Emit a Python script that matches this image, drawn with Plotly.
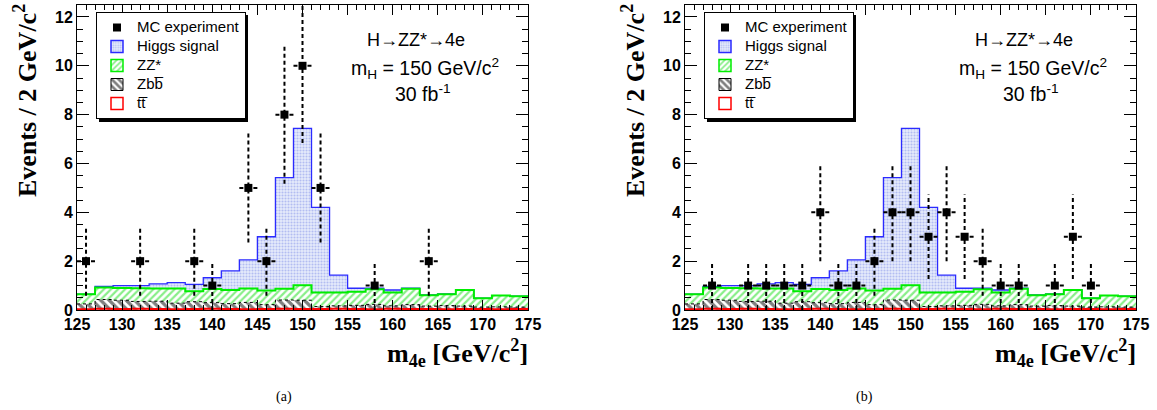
import numpy as np
import plotly.graph_objects as go

# ---------------- data ----------------
bin_centers = [126, 128, 130, 132, 134, 136, 138, 140, 142, 144, 146, 148, 150,
               152, 154, 156, 158, 160, 162, 164, 166, 168, 170, 172, 174]
bin_width = 2.0
higgs = [0.01, 0.05, 0.10, 0.11, 0.19, 0.24, 0.28, 0.46, 0.78, 1.17, 2.20, 4.55, 6.43,
         3.48, 0.71, 0.14, 0.04, 0.10, 0.02, 0.02, 0.01, 0.00, 0.01, 0.00, 0.01]
zz = [0.39, 0.49, 0.50, 0.54, 0.52, 0.60, 0.43, 0.56, 0.56, 0.57, 0.58, 0.46, 0.61,
      0.58, 0.55, 0.56, 0.62, 0.55, 0.65, 0.44, 0.47, 0.66, 0.36, 0.46, 0.44]
zbb = [0.22, 0.38, 0.36, 0.30, 0.32, 0.25, 0.30, 0.25, 0.22, 0.28, 0.18, 0.36, 0.36,
       0.10, 0.12, 0.15, 0.20, 0.12, 0.18, 0.12, 0.15, 0.12, 0.08, 0.10, 0.08]
tt = [0.03, 0.05, 0.04, 0.05, 0.04, 0.03, 0.04, 0.05, 0.04, 0.03, 0.04, 0.05, 0.04,
      0.04, 0.05, 0.04, 0.03, 0.05, 0.04, 0.04, 0.03, 0.04, 0.04, 0.03, 0.04]

data_a_x = [126, 132, 138, 140, 144, 146, 148, 150, 152, 158, 164]
data_a_y = [2, 2, 2, 1, 5, 2, 8, 10, 5, 1, 2]
data_b_x = [128, 132, 134, 136, 138, 140, 142, 144, 146, 148, 150, 152, 154, 156,
            158, 160, 162, 166, 168, 170]
data_b_y = [1, 1, 1, 1, 1, 4, 1, 1, 2, 4, 4, 3, 4, 3, 2, 1, 1, 1, 3, 1]

x_ticks = [125, 130, 135, 140, 145, 150, 155, 160, 165, 170, 175]
y_ticks = [0, 2, 4, 6, 8, 10, 12]

# ---------------- derived stacks ----------------
c = np.array(bin_centers, dtype=float)
tt_top = np.array(tt)
zbb_top = tt_top + np.array(zbb)
zz_top = zbb_top + np.array(zz)
tot_top = zz_top + np.array(higgs)
edges = np.append(c - bin_width / 2, c[-1] + bin_width / 2)


def step(v):
    return np.append(v, v[-1])


W, H = 1157, 410


def px(x):
    return x / W


def py(y):
    return 1 - y / H


fig = go.Figure()

SANS = "Liberation Sans, DejaVu Sans"
SERIF = "Liberation Serif"


def lbl(t):
    return "<span style='font-size:15px'>" + t + "</span>"


panels = [
    dict(xa="x", ya="y", leg="legend", dx=data_a_x, dy=data_a_y),
    dict(xa="x2", ya="y2", leg="legend2", dx=data_b_x, dy=data_b_y),
]

higgs_pat = dict(shape=".", fgcolor="#7f90e8", bgcolor="#e6ebfb", size=3, solidity=0.4)
zz_pat = dict(shape="/", fgcolor="#11dd11", bgcolor="white", size=5, solidity=0.45)
zbb_pat = dict(shape="\\", fgcolor="black", bgcolor="white", size=6, solidity=0.55)

for p in panels:
    common = dict(xaxis=p["xa"], yaxis=p["ya"], legend=p["leg"], hoverinfo="skip")
    # Higgs signal (stack total)
    fig.add_trace(go.Scatter(
        x=edges, y=step(tot_top), mode="lines", line=dict(color="#2b2bff", width=1.3, shape="hv"),
        fill="tozeroy", fillcolor="#e6ebfb", fillpattern=higgs_pat, showlegend=False, **common))
    # ZZ*
    fig.add_trace(go.Scatter(
        x=edges, y=step(zz_top), mode="lines", line=dict(color="#00ee00", width=2, shape="hv"),
        fill="tozeroy", fillcolor="white", fillpattern=zz_pat, showlegend=False, **common))
    # Zbb
    fig.add_trace(go.Scatter(
        x=edges, y=step(zbb_top), mode="lines", line=dict(color="black", width=1, shape="hv", dash="3px,3px"),
        fill="tozeroy", fillcolor="white", fillpattern=zbb_pat, showlegend=False, **common))
    # ttbar
    fig.add_trace(go.Scatter(
        x=edges, y=step(tt_top), mode="lines", line=dict(color="red", width=2, shape="hv"),
        showlegend=False, **common))
    # error bars (dashed)
    ex, ey = [], []
    for xv, yv in zip(p["dx"], p["dy"]):
        e = np.sqrt(yv)
        ex += [xv, xv, None, xv - bin_width / 2, xv + bin_width / 2, None]
        ey += [yv - e, yv + e, None, yv, yv, None]
    fig.add_trace(go.Scatter(x=ex, y=ey, mode="lines", line=dict(color="black", width=2, dash="4px,3px"),
                             showlegend=False, **common))
    fig.add_trace(go.Scatter(x=p["dx"], y=p["dy"], mode="markers",
                             marker=dict(symbol="square", size=8, color="black"),
                             name=lbl("MC experiment"), legendrank=1, **common))
    # legend-only entries (box swatches)
    fig.add_trace(go.Bar(x=[None], y=[None], name=lbl("Higgs signal"), legendrank=2,
                         marker=dict(color="#e6ebfb", pattern=higgs_pat, line=dict(color="#2b2bff", width=1.5)),
                         **common))
    fig.add_trace(go.Bar(x=[None], y=[None], name=lbl("ZZ*"), legendrank=3,
                         marker=dict(color="white", pattern=zz_pat, line=dict(color="#00ee00", width=1.5)),
                         **common))
    fig.add_trace(go.Bar(x=[None], y=[None], name=lbl("Zbb\u0305"), legendrank=4,
                         marker=dict(color="white", pattern=zbb_pat, line=dict(color="black", width=1)),
                         **common))
    fig.add_trace(go.Bar(x=[None], y=[None], name=lbl("tt\u0305"), legendrank=5,
                         marker=dict(color="white", line=dict(color="red", width=1.5)),
                         **common))

xdoms = [[px(77), px(528)], [px(685), px(1136)]]
ydom = [py(310), py(5)]
ytop = (310 - 5) / 24.42

axis_common = dict(showline=True, linecolor="black", linewidth=1, mirror="allticks",
                   ticks="inside", tickcolor="black", showgrid=False, zeroline=False, automargin=False,
                   tickfont=dict(family="Liberation Sans", size=16, color="black", weight="bold"))

for i, (xn, yn) in enumerate([("xaxis", "yaxis"), ("xaxis2", "yaxis2")]):
    fig.layout[xn] = dict(domain=xdoms[i], range=[125, 175], tickvals=x_ticks, ticklen=10,
                          minor=dict(dtick=1, tick0=125, ticklen=5, ticks="inside", tickcolor="black"),
                          anchor="y" if i == 0 else "y2", **axis_common)
    fig.layout[yn] = dict(domain=ydom, range=[0, ytop], tickvals=y_ticks, ticklen=12,
                          minor=dict(dtick=0.5, tick0=0, ticklen=6, ticks="inside", tickcolor="black"),
                          anchor="x" if i == 0 else "x2", **axis_common)

LEG_L, LEG_T, LEG_W, LEG_H = 96, 12, 149, 107
leg_common = dict(xanchor="left", yanchor="top", bgcolor="white", bordercolor="black", borderwidth=1,
                  font=dict(family="Liberation Sans", size=11.5, color="black"), tracegroupgap=0,
                  traceorder="normal", itemwidth=30)
fig.update_layout(
    legend=dict(x=px(LEG_L), y=py(LEG_T), **leg_common),
    legend2=dict(x=px(LEG_L + 608), y=py(LEG_T), **leg_common),
)

shapes = []
annotations = []
ann = dict(xref="paper", yref="paper", showarrow=False, xanchor="center", yanchor="middle")
for off, cap, cx in [(0, "(a)", 284), (608, "(b)", 864)]:
    # legend shadow
    shapes.append(dict(type="rect", xref="paper", yref="paper",
                       x0=px(LEG_L + 3 + off), x1=px(LEG_L + LEG_W + 3 + off),
                       y0=py(LEG_T + LEG_H + 3), y1=py(LEG_T + 3),
                       fillcolor="black", line=dict(width=0), layer="above"))
    annotations += [
        dict(text="H\u2192ZZ*\u21924e", x=px(416 + off), y=py(40),
             font=dict(family=SANS, size=18, color="black"), **ann),
        dict(text="m<sub>H</sub> = 150 GeV/c<sup>2</sup>", x=px(425 + off), y=py(68),
             font=dict(family=SANS, size=19.5, color="black"), **ann),
        dict(text="30 fb<sup>-1</sup>", x=px(423 + off), y=py(93),
             font=dict(family=SANS, size=19.5, color="black"), **ann),
        dict(text="<b>Events / 2 GeV/c<sup>2</sup></b>", x=px(25 + off), y=py(101), textangle=-90,
             font=dict(family=SERIF, size=26, color="black"), **ann),
        dict(text=cap, x=px(cx), y=py(397), font=dict(family=SERIF, size=14, color="black"), **ann),
    ]
    annotations.append(dict(text="<b>m<sub>4e</sub> [GeV/c<sup>2</sup>]</b>", x=px(530 + off), y=py(353),
                            xref="paper", yref="paper", showarrow=False, xanchor="right", yanchor="middle",
                            font=dict(family=SERIF, size=26, color="black")))

fig.update_layout(width=W, height=H, autosize=False, margin=dict(l=0, r=0, t=0, b=0),
                  plot_bgcolor="white", paper_bgcolor="white", shapes=shapes, annotations=annotations,
                  showlegend=True)

fig.write_html("out.html", config={"displayModeBar": False},
               post_script="document.body.style.margin='0px';")
